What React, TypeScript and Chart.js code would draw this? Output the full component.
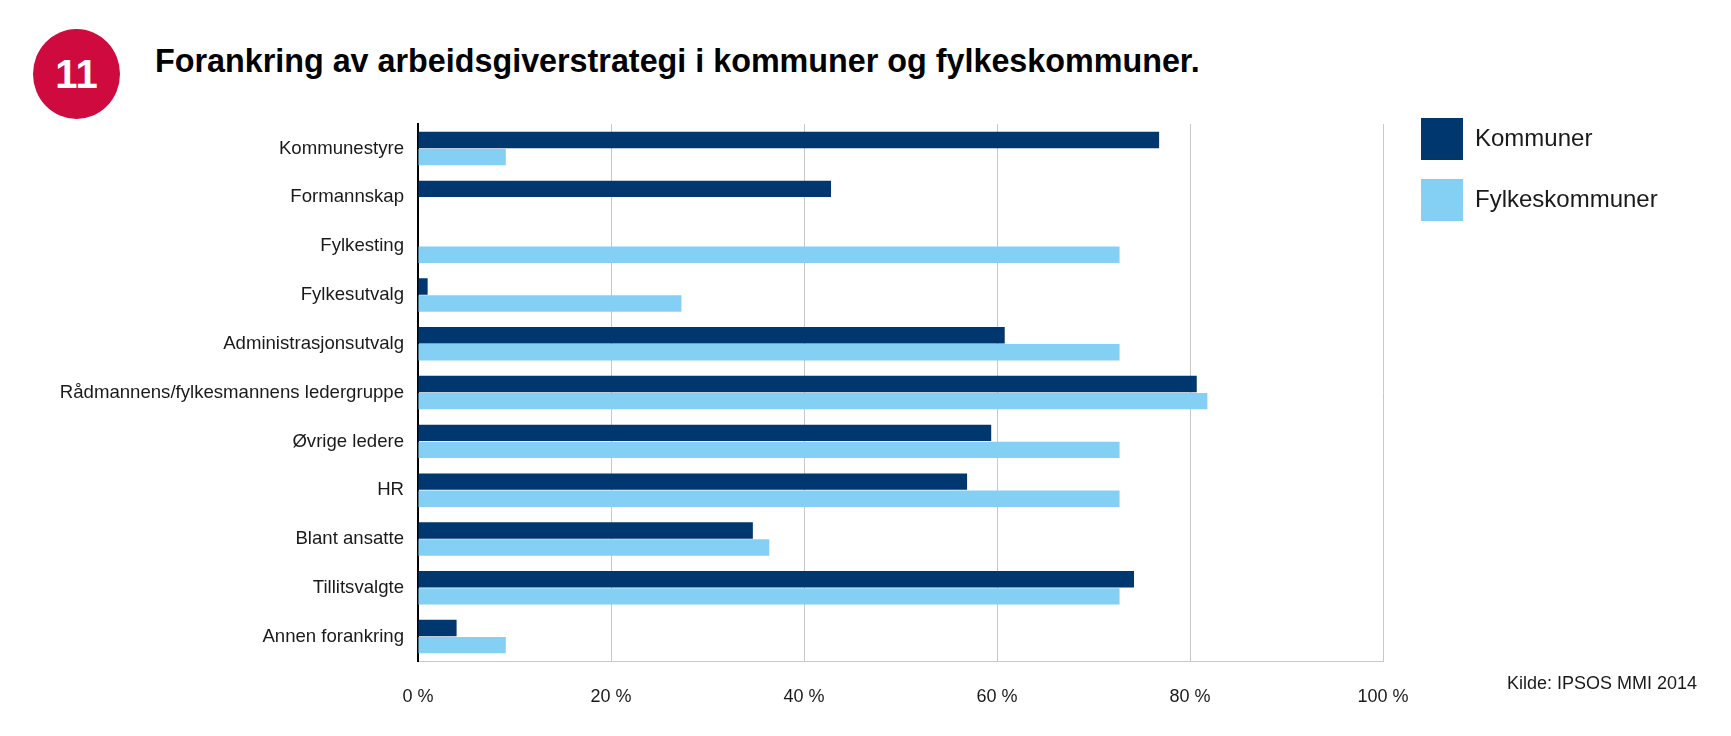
import React, { useEffect, useRef } from 'react';
import { Chart, registerables } from 'chart.js';

Chart.register(...registerables);

const categories = [
  'Kommunestyre',
  'Formannskap',
  'Fylkesting',
  'Fylkesutvalg',
  'Administrasjonsutvalg',
  'Rådmannens/fylkesmannens ledergruppe',
  'Øvrige ledere',
  'HR',
  'Blant ansatte',
  'Tillitsvalgte',
  'Annen forankring',
];
const seriesNames = ['Kommuner', 'Fylkeskommuner'];
const kommuner = [76.8, 42.8, 0, 1.0, 60.8, 80.7, 59.4, 56.9, 34.7, 74.2, 4.0];
const fylkeskommuner = [9.1, 0, 72.7, 27.3, 72.7, 81.8, 72.7, 72.7, 36.4, 72.7, 9.1];
const xTickValues = [0, 20, 40, 60, 80, 100];
const titleText = 'Forankring av arbeidsgiverstrategi i kommuner og fylkeskommuner.';
const badgeText = '11';
const sourceText = 'Kilde: IPSOS MMI 2014';

const DARK = '#00376f';
const LIGHT = '#84d0f5';
const FONT = "'Liberation Sans', Arial, Helvetica, sans-serif";

export default function App() {
  const canvasRef = useRef<HTMLCanvasElement | null>(null);

  useEffect(() => {
    const canvas = canvasRef.current;
    if (!canvas) return;
    const chart = new Chart(canvas, {
      type: 'bar',
      data: {
        labels: categories,
        datasets: [
          {
            label: seriesNames[0],
            data: kommuner,
            backgroundColor: DARK,
            borderWidth: 0,
            categoryPercentage: 0.7,
            barPercentage: 0.96,
          },
          {
            label: seriesNames[1],
            data: fylkeskommuner,
            backgroundColor: LIGHT,
            borderWidth: 0,
            categoryPercentage: 0.7,
            barPercentage: 0.96,
          },
        ],
      },
      options: {
        indexAxis: 'y',
        animation: false,
        responsive: false,
        maintainAspectRatio: false,
        devicePixelRatio: 1,
        layout: { padding: { left: 0, right: 69, top: 0, bottom: 0 } },
        plugins: {
          tooltip: { enabled: false },
          title: { display: false },
          legend: {
            display: true,
            position: 'right',
            align: 'start',
            maxWidth: 260,
            labels: {
              boxWidth: 42,
              boxHeight: 42,
              padding: 19,
              color: '#1a1a1a',
              font: { family: FONT, size: 24 },
            },
          },
        },
        scales: {
          x: {
            type: 'linear',
            position: 'bottom',
            min: 0,
            max: 100,
            afterBuildTicks: (scale: any) => {
              scale.ticks = xTickValues.map((v) => ({ value: v }));
            },
            afterFit: (scale: any) => {
              scale.height = 75;
            },
            ticks: {
              padding: 25,
              color: '#1a1a1a',
              font: { family: FONT, size: 18 },
              callback: (v: any) => `${v} %`,
            },
            grid: {
              display: true,
              drawTicks: false,
              color: (ctx: any) => (ctx.tick && ctx.tick.value === 0 ? 'rgba(0,0,0,0)' : '#c8c8c8'),
              lineWidth: 1,
            },
            border: { display: true, color: '#c8c8c8', width: 1 },
          },
          x2: {
            type: 'linear',
            position: 'top',
            display: true,
            afterFit: (scale: any) => {
              scale.height = 20.7;
            },
            ticks: { display: false },
            grid: { display: false, drawTicks: false },
            border: { display: false },
          },
          y: {
            type: 'category',
            position: 'left',
            afterFit: (scale: any) => {
              scale.width = 418;
            },
            ticks: {
              padding: 14,
              color: '#1a1a1a',
              font: { family: FONT, size: 18.6 },
            },
            grid: { display: false, drawTicks: false },
            border: { display: true, color: '#000000', width: 2 },
          },
          y2: {
            type: 'linear',
            position: 'right',
            display: true,
            afterFit: (scale: any) => {
              scale.width = 19;
            },
            ticks: { display: false },
            grid: { display: false, drawTicks: false },
            border: { display: false },
          },
        },
      } as any,
    });
    return () => {
      chart.destroy();
    };
  }, []);

  return (
    <div
      style={{
        position: 'absolute',
        left: 0,
        top: 0,
        width: 1731,
        height: 736,
        background: '#ffffff',
        overflow: 'hidden',
        fontFamily: FONT,
      }}
    >
      <div
        style={{
          position: 'absolute',
          left: 33,
          top: 29,
          width: 87,
          height: 90,
          borderRadius: '50%',
          background: '#cf0a3f',
          color: '#ffffff',
          fontWeight: 700,
          fontSize: 40,
          lineHeight: '90px',
          textAlign: 'center',
        }}
      >
        {badgeText}
      </div>
      <div
        style={{
          position: 'absolute',
          left: 155,
          top: 45,
          fontWeight: 700,
          fontSize: 32.3,
          lineHeight: '32px',
          color: '#000000',
          whiteSpace: 'nowrap',
        }}
      >
        {titleText}
      </div>
      <canvas
        ref={canvasRef}
        width={1731}
        height={637}
        style={{ position: 'absolute', left: 0, top: 99, width: 1731, height: 637 }}
      />
      <div
        style={{
          position: 'absolute',
          left: 1507,
          top: 674,
          fontSize: 18,
          lineHeight: '18px',
          color: '#1a1a1a',
          whiteSpace: 'nowrap',
        }}
      >
        {sourceText}
      </div>
    </div>
  );
}
